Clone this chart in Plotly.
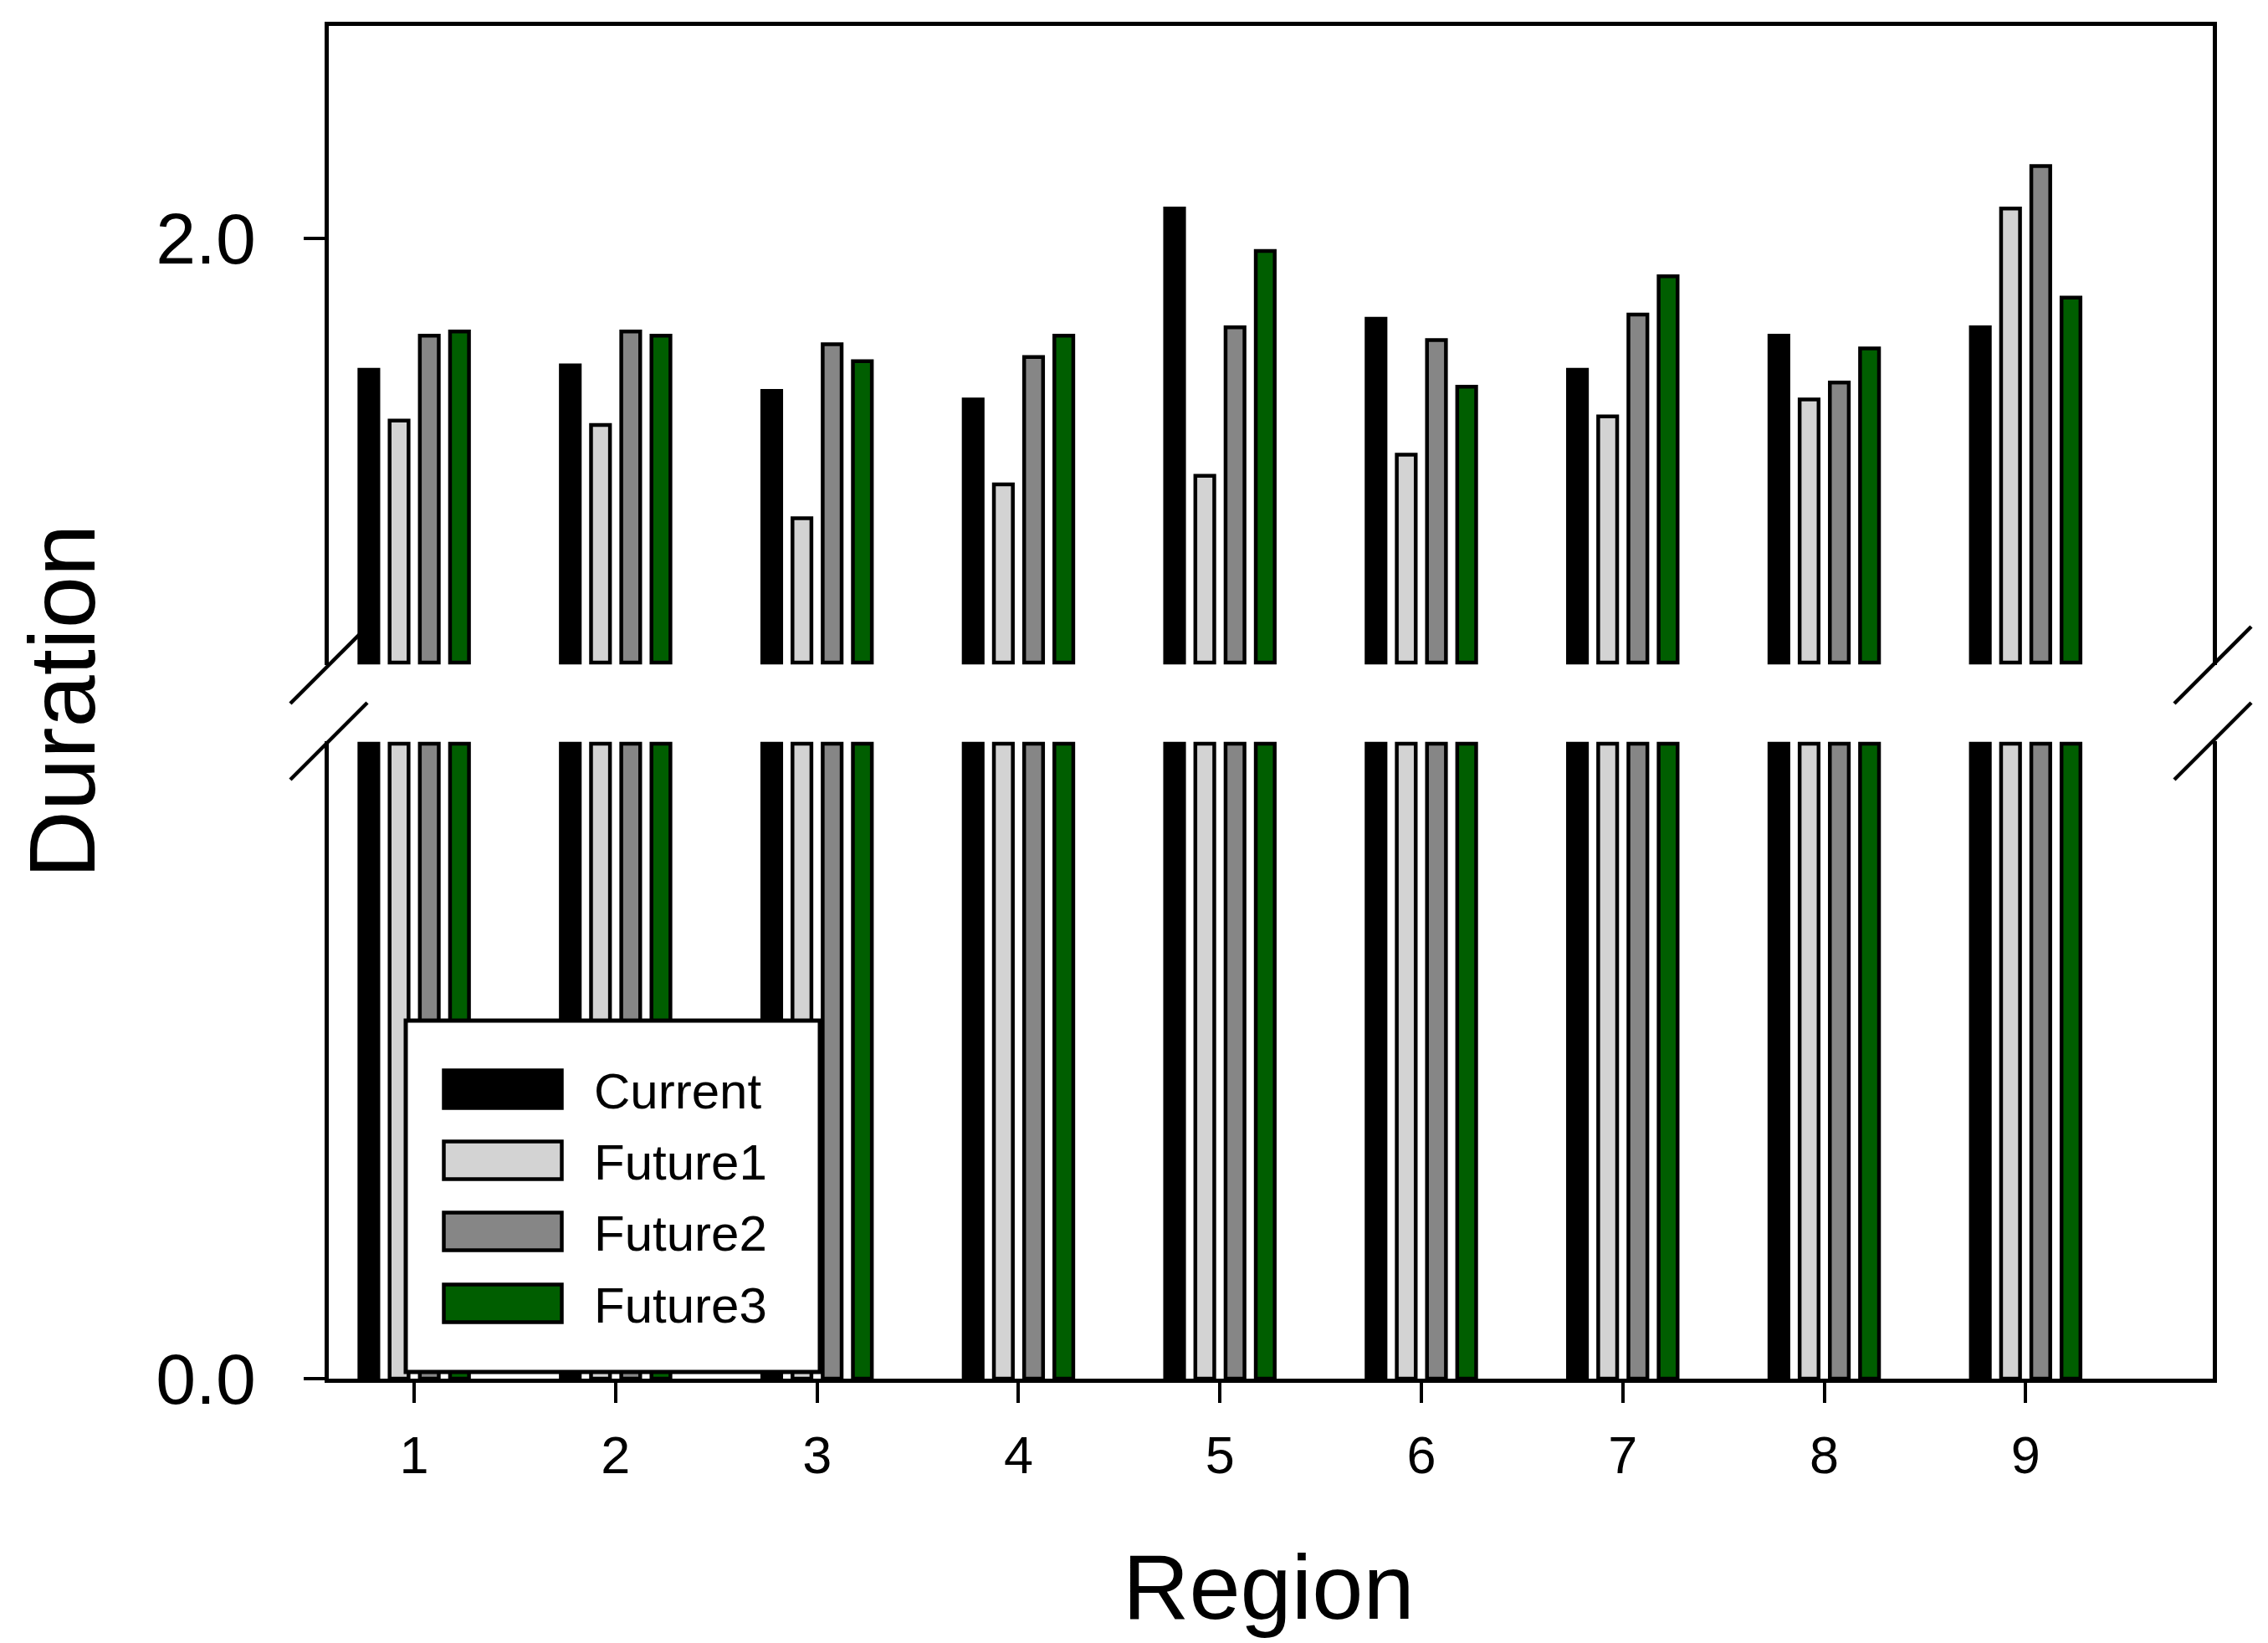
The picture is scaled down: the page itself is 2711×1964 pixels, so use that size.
import plotly.graph_objects as go

# ---------------- data ----------------
regions = [1, 2, 3, 4, 5, 6, 7, 8, 9]
series_names = ["Current", "Future1", "Future2", "Future3"]
current = [1.69, 1.70, 1.64, 1.62, 2.07, 1.81, 1.69, 1.77, 1.79]
future1 = [1.57, 1.56, 1.34, 1.42, 1.44, 1.49, 1.58, 1.62, 2.07]
future2 = [1.77, 1.78, 1.75, 1.72, 1.79, 1.76, 1.82, 1.66, 2.17]
future3 = [1.78, 1.77, 1.71, 1.77, 1.97, 1.65, 1.91, 1.74, 1.86]
y_lower_ticks = [0.0]
y_upper_ticks = [2.0]

# broken axis segments
LOWER_MIN, LOWER_MAX = 0.0, 1.0
UPPER_MIN, UPPER_MAX = 1.0, 2.5

# ---------------- style / layout ----------------
colors = ["#000000", "#d3d3d3", "#868686", "#005e00"]
FONT = "Liberation Sans, Arial, Helvetica, sans-serif"

W, H = 2711, 1964
L, R, T, B = 385, 74, 23, 324
PW, PH = W - L - R, H - T - B


def px_x(px):
    return (px - L) / PW


def px_y(py):
    return (H - B - py) / PH


lower_top = px_y(878)
upper_bot = px_y(787)

bar_w = 0.094
centers = [-0.225, -0.075, 0.075, 0.225]
LW = 4.5

fig = go.Figure()
all_vals = [current, future1, future2, future3]
for name, vals, col, c in zip(series_names, all_vals, colors, centers):
    # lower segment (clipped at the break)
    fig.add_trace(go.Bar(
        x=regions, y=[min(v, LOWER_MAX) - LOWER_MIN for v in vals], base=LOWER_MIN,
        width=bar_w, offset=c - bar_w / 2, name=name,
        marker=dict(color=col, line=dict(color="black", width=LW)),
        xaxis="x", yaxis="y", showlegend=False,
    ))
    # upper segment
    fig.add_trace(go.Bar(
        x=regions, y=[v - UPPER_MIN for v in vals], base=UPPER_MIN,
        width=bar_w, offset=c - bar_w / 2, name=name,
        marker=dict(color=col, line=dict(color="black", width=LW)),
        xaxis="x2", yaxis="y2", showlegend=False,
    ))

axis_common = dict(showgrid=False, zeroline=False, linecolor="black", linewidth=5,
                   showline=True, tickcolor="black", tickwidth=4)

pad_u = 3 / (787 - 23) * (UPPER_MAX - UPPER_MIN)
pad_l = 3 / (1640 - 878) * (LOWER_MAX - LOWER_MIN)

fig.update_layout(
    width=W, height=H,
    margin=dict(l=L, r=R, t=T, b=B, autoexpand=False),
    paper_bgcolor="white", plot_bgcolor="white",
    barmode="overlay",
    font=dict(family=FONT, color="black"),
    xaxis=dict(domain=[0, 1], anchor="y", range=[0.576, 9.929],
               tickvals=regions, ticktext=[str(r) for r in regions],
               ticks="outside", ticklen=24, tickfont=dict(size=63, family=FONT),
               ticklabelstandoff=8, **axis_common),
    xaxis2=dict(domain=[0, 1], anchor="y2", matches="x", side="top",
                ticks="", showticklabels=False, **axis_common),
    yaxis=dict(domain=[0, lower_top], anchor="x",
               range=[LOWER_MIN, LOWER_MAX + pad_l],
               tickvals=y_lower_ticks, ticktext=[f"{v:.1f}" for v in y_lower_ticks],
               ticks="outside", ticklen=25, tickfont=dict(size=86, family=FONT),
               ticklabelstandoff=40, mirror=True, **axis_common),
    yaxis2=dict(domain=[upper_bot, 1], anchor="x2",
                range=[UPPER_MIN - pad_u, UPPER_MAX],
                tickvals=y_upper_ticks, ticktext=[f"{v:.1f}" for v in y_upper_ticks],
                ticks="outside", ticklen=25, tickfont=dict(size=86, family=FONT),
                ticklabelstandoff=40, mirror=True, **axis_common),
)

# axis-break marks
shapes = []
dx, dy = 46 / PW, 46 / PH
for xb in (0.0, 1.0):
    for yb in (upper_bot, lower_top):
        shapes.append(dict(type="line", xref="paper", yref="paper",
                           x0=xb - dx, y0=yb - dy, x1=xb + dx, y1=yb + dy,
                           line=dict(color="black", width=4.5), layer="below"))

# legend box
shapes.append(dict(type="rect", xref="paper", yref="paper",
                   x0=px_x(477), x1=px_x(972), y0=px_y(1632), y1=px_y(1212),
                   line=dict(color="black", width=5), fillcolor="white", layer="above"))
annotations = []
leg_centers = [1294, 1379, 1464, 1550]
for name, col, yc in zip(series_names, colors, leg_centers):
    shapes.append(dict(type="rect", xref="paper", yref="paper",
                       x0=px_x(522.5), x1=px_x(663.5), y0=px_y(yc + 22.5), y1=px_y(yc - 22.5),
                       line=dict(color="black", width=4.5), fillcolor=col, layer="above"))
    annotations.append(dict(text=name, xref="paper", yref="paper", x=px_x(700), y=px_y(yc + 2),
                            xanchor="left", yanchor="middle", showarrow=False,
                            font=dict(size=60, family=FONT, color="black")))

# axis titles
annotations.append(dict(text="Duration", xref="paper", yref="paper", x=px_x(66), y=px_y(831),
                        xanchor="center", yanchor="middle", textangle=-90, showarrow=False,
                        font=dict(size=112, family=FONT, color="black")))
annotations.append(dict(text="Region", xref="paper", yref="paper", x=px_x(1508), y=px_y(1888),
                        xanchor="center", yanchor="middle", showarrow=False,
                        font=dict(size=110, family=FONT, color="black")))

fig.update_layout(shapes=shapes, annotations=annotations)

fig.write_html("out.html")
